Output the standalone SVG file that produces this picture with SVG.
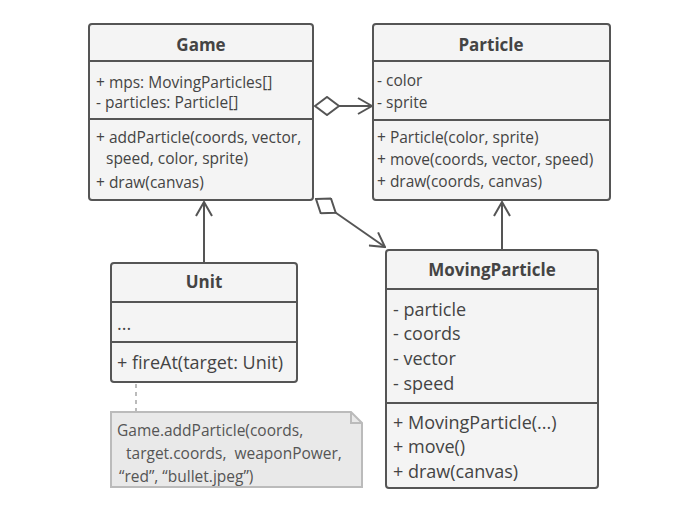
<svg xmlns="http://www.w3.org/2000/svg" width="700" height="507" viewBox="0 0 700 507">
<style>
.box{fill:#f4f4f4;stroke:#555;stroke-width:2}
.sep{stroke:#555;stroke-width:2}
.t{font-family:"Open Sans","Liberation Sans",sans-serif;font-size:15.5px;fill:#444}
.t18{font-family:"Open Sans","Liberation Sans",sans-serif;font-size:18px;fill:#444}
.title{font-family:"Open Sans","Liberation Sans",sans-serif;font-size:17px;font-weight:bold;fill:#444;text-anchor:middle}
.edge{stroke:#555;stroke-width:2;fill:none}
.note{fill:#e9e9e9;stroke:#bbb;stroke-width:2}
.nt{font-family:"Open Sans","Liberation Sans",sans-serif;font-size:15.5px;fill:#555}
</style>
<defs>
<marker id="arrow" viewBox="0 0 16 18" refX="15" refY="9" markerWidth="16" markerHeight="18" markerUnits="userSpaceOnUse" orient="auto">
<path d="M1,1 L15,9 L1,17" fill="none" stroke="#555" stroke-width="2"/>
</marker>
<marker id="diamond" viewBox="0 -1 28 20" refX="1" refY="9" markerWidth="28" markerHeight="20" markerUnits="userSpaceOnUse" orient="auto">
<path d="M1,9 L13,0 L25,9 L13,18 Z" fill="#fff" stroke="#555" stroke-width="2"/>
</marker>
</defs>
<g id="connectors">
<line class="edge" x1="315" y1="106" x2="372" y2="106" marker-start="url(#diamond)" marker-end="url(#arrow)"/>
<line class="edge" x1="316" y1="199" x2="385" y2="247" marker-start="url(#diamond)" marker-end="url(#arrow)"/>
<line class="edge" x1="204" y1="262" x2="204" y2="202" marker-end="url(#arrow)"/>
<line class="edge" x1="502" y1="250" x2="502" y2="202" marker-end="url(#arrow)"/>
<line x1="136" y1="384" x2="136" y2="411" stroke="#bbb" stroke-width="2" stroke-dasharray="4,4"/>
</g>
<g id="game">
<rect class="box" x="89" y="24" width="224" height="176" rx="3"/>
<line class="sep" x1="89" y1="61" x2="313" y2="61"/>
<line class="sep" x1="89" y1="119" x2="313" y2="119"/>
<text class="title" x="201" y="51">Game</text>
<text class="t" x="96" y="88">+ mps: MovingParticles[]</text>
<text class="t" x="96" y="108">- particles: Particle[]</text>
<text class="t" x="96" y="143">+ addParticle(coords, vector,</text>
<text class="t" x="106" y="164">speed, color, sprite)</text>
<text class="t" x="96" y="188">+ draw(canvas)</text>
</g>
<g id="particle">
<rect class="box" x="373" y="24" width="237" height="176" rx="3"/>
<line class="sep" x1="373" y1="61" x2="610" y2="61"/>
<line class="sep" x1="373" y1="120" x2="610" y2="120"/>
<text class="title" x="491" y="51">Particle</text>
<text class="t" x="377" y="86">- color</text>
<text class="t" x="377" y="108">- sprite</text>
<text class="t" x="377" y="143">+ Particle(color, sprite)</text>
<text class="t" x="377" y="165">+ move(coords, vector, speed)</text>
<text class="t" x="377" y="187">+ draw(coords, canvas)</text>
</g>
<g id="unit">
<rect class="box" x="111" y="263" width="186" height="119" rx="3"/>
<line class="sep" x1="111" y1="302" x2="297" y2="302"/>
<line class="sep" x1="111" y1="342" x2="297" y2="342"/>
<text class="title" x="204" y="288">Unit</text>
<text class="t18" x="117" y="330">...</text>
<text class="t18" x="117" y="369">+ fireAt(target: Unit)</text>
</g>
<g id="movingparticle">
<rect class="box" x="386" y="250" width="212" height="238" rx="3"/>
<line class="sep" x1="386" y1="289" x2="598" y2="289"/>
<line class="sep" x1="386" y1="403" x2="598" y2="403"/>
<text class="title" x="492" y="276">MovingParticle</text>
<text class="t18" x="393" y="316">- particle</text>
<text class="t18" x="393" y="340">- coords</text>
<text class="t18" x="393" y="365">- vector</text>
<text class="t18" x="393" y="390">- speed</text>
<text class="t18" x="393" y="429">+ MovingParticle(...)</text>
<text class="t18" x="393" y="453">+ move()</text>
<text class="t18" x="393" y="478">+ draw(canvas)</text>
</g>
<g id="note">
<path class="note" d="M111,412 L351,412 L362,423 L362,487 L111,487 Z"/>
<path d="M351,412 L351,423 L362,423" fill="none" stroke="#bbb" stroke-width="2"/>
<text class="nt" x="117" y="436">Game.addParticle(coords,</text>
<text class="nt" x="126" y="459" xml:space="preserve">target.coords,  weaponPower,</text>
<text class="nt" x="119" y="482">“red”, “bullet.jpeg”)</text>
</g>
</svg>
